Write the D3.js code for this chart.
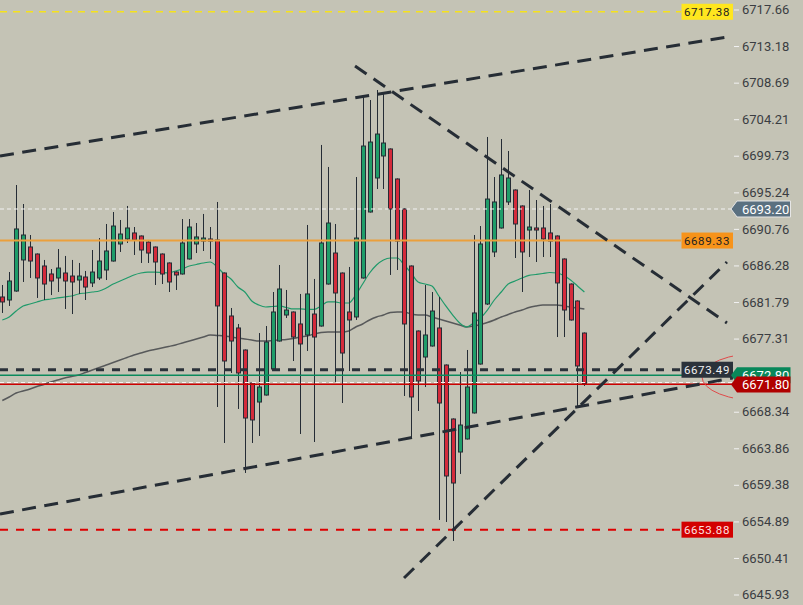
<!DOCTYPE html>
<html><head><meta charset="utf-8">
<script src="https://cdn.jsdelivr.net/npm/d3@7"></script>
<style>html,body{margin:0;padding:0;background:#c4c3b5;}svg{display:block;}</style>
</head><body><svg id="c" width="803" height="605"></svg>
<script>
// ---- DATA ----
const opens = [6682.41,6682.04,6683.14,6686.95,6688.54,6687.68,6686.21,6685.23,6684.74,6685.35,
6684.98,6684.49,6684.86,6684.13,6684.74,6685.72,6686.82,6688.91,6689.52,6690.26,
6689.89,6689.15,6688.54,6687.68,6686.58,6685.47,6685.23,6687.07,6688.91,6689.27,
6689.52,6689.40,6685.35,6680.08,6678.61,6675.91,6671.86,6669.53,6670.39,6673.58,
6677.01,6680.20,6680.57,6679.10,6677.75,6680.32,6678.85,6684.00,6687.80,6685.35,
6680.57,6679.96,6684.74,6692.83,6697.00,6699.70,6700.56,6696.88,6693.20,6686.21,
6678.24,6675.05,6676.40,6678.61,6674.07,6667.45,6663.40,6665.00,6668.19,6674.19,
6681.55,6687.93,6690.87,6694.06,6695.53,6693.57,6690.62,6690.87,6690.87,6690.26,
6689.89,6687.07,6684.00,6681.92,6677.99];
const highs = [6683.88,6685.47,6696.14,6693.81,6690.01,6687.75,6686.95,6685.84,6688.29,6687.44,
6686.95,6686.58,6685.60,6688.17,6689.64,6691.36,6692.83,6691.85,6693.57,6690.99,
6689.95,6689.40,6688.60,6687.75,6686.65,6685.55,6691.97,6691.97,6691.48,6692.59,
6690.99,6694.06,6685.42,6681.06,6679.10,6675.98,6671.93,6677.99,6678.85,6683.02,
6686.33,6683.27,6680.64,6682.78,6691.24,6684.62,6701.05,6698.35,6691.36,6685.42,
6686.09,6697.12,6706.93,6706.56,6707.79,6707.42,6700.63,6696.95,6693.27,6686.28,
6678.31,6683.88,6683.02,6682.41,6674.14,6667.52,6673.21,6675.91,6690.01,6691.11,
6702.03,6697.12,6701.78,6700.31,6695.60,6693.64,6695.53,6694.30,6693.57,6693.81,
6689.96,6687.14,6684.07,6681.99,6678.06];
const lows = [6680.45,6681.31,6683.05,6684.25,6684.74,6682.29,6682.04,6682.65,6683.02,6680.94,
6680.32,6682.78,6682.04,6683.63,6684.49,6684.49,6686.75,6687.93,6689.03,6687.56,
6686.58,6686.58,6683.88,6684.00,6683.02,6683.27,6685.16,6687.00,6687.80,6688.05,
6687.07,6668.92,6664.51,6673.09,6668.68,6660.83,6664.51,6665.37,6670.32,6673.51,
6676.94,6679.83,6674.56,6665.61,6675.79,6664.63,6678.78,6683.93,6671.99,6669.41,
6673.33,6679.59,6684.67,6692.76,6695.65,6695.65,6685.11,6685.72,6670.27,6665.12,
6668.43,6671.37,6676.33,6655.07,6654.82,6652.49,6660.71,6664.93,6668.12,6674.12,
6681.43,6687.31,6690.80,6693.69,6687.19,6683.02,6687.31,6686.70,6687.31,6687.31,
6677.50,6677.50,6679.52,6668.80,6671.50];
const closes = [6681.80,6684.37,6690.75,6690.01,6686.82,6684.74,6684.00,6684.37,6685.96,6684.37,
6684.25,6684.98,6683.63,6685.47,6686.82,6688.05,6691.11,6690.13,6690.87,6689.40,
6688.17,6687.80,6686.70,6685.23,6684.25,6685.11,6689.03,6690.99,6689.77,6689.64,
6689.27,6681.31,6674.56,6677.01,6673.09,6667.57,6667.33,6671.37,6676.89,6680.57,
6683.39,6680.81,6677.50,6676.65,6682.78,6677.50,6689.03,6691.48,6682.90,6675.54,
6679.59,6689.64,6700.92,6701.41,6702.39,6701.29,6693.20,6689.27,6679.10,6670.15,
6672.11,6677.75,6680.69,6669.41,6660.46,6659.60,6666.71,6671.37,6680.45,6688.91,
6694.42,6694.06,6697.37,6697.00,6691.36,6687.93,6690.99,6690.62,6689.52,6689.27,
6684.13,6680.81,6679.59,6673.95,6671.80];
const maFast = [6679.59,6679.96,6680.69,6681.31,6681.55,6681.80,6682.04,6682.16,6682.29,6682.41,
6682.53,6682.78,6682.90,6683.02,6683.14,6683.51,6684.00,6684.37,6684.74,6685.11,
6685.35,6685.47,6685.47,6685.41,6685.35,6685.60,6685.84,6686.21,6686.39,6686.58,
6686.70,6686.09,6685.23,6684.62,6683.63,6683.02,6681.92,6681.43,6681.18,6681.24,
6681.31,6681.12,6680.94,6680.94,6680.88,6680.88,6681.31,6681.80,6681.80,6681.67,
6681.67,6682.65,6684.00,6685.35,6686.33,6686.95,6687.19,6687.19,6686.33,6685.35,
6684.25,6684.00,6683.76,6682.53,6681.31,6680.20,6679.22,6678.73,6679.22,6679.83,
6680.81,6682.04,6683.02,6684.00,6684.37,6684.74,6685.05,6685.17,6685.29,6685.41,
6685.35,6685.05,6684.49,6683.76,6683.02];
const maSlow = [6669.72,6670.15,6670.64,6670.88,6671.13,6671.43,6671.68,6671.99,6672.23,6672.48,
6672.66,6672.84,6673.15,6673.46,6673.76,6674.07,6674.38,6674.68,6674.99,6675.30,
6675.54,6675.79,6675.97,6676.16,6676.34,6676.53,6676.77,6677.01,6677.26,6677.50,
6677.75,6677.69,6677.63,6677.50,6677.38,6677.26,6677.14,6677.01,6677.01,6677.07,
6677.14,6677.20,6677.32,6677.50,6677.63,6677.87,6678.06,6678.12,6678.12,6678.12,
6678.24,6678.73,6679.10,6679.59,6679.96,6680.20,6680.51,6680.57,6680.57,6680.32,
6680.20,6680.20,6679.96,6679.71,6679.47,6679.22,6678.98,6678.73,6678.85,6679.04,
6679.28,6679.59,6679.96,6680.26,6680.57,6680.81,6681.12,6681.31,6681.43,6681.43,
6681.43,6681.31,6681.18,6681.06,6680.94];
const tickValues = [6717.66,6713.18,6708.69,6704.21,6699.73,6695.24,6690.76,6686.28,6681.79,6677.31,6668.34,6663.86,6659.38,6654.89,6650.41,6645.93];
// trend lines: [barIndex, price] pairs
const trendFrom = [[-0.33,6699.70],[-0.33,6655.80],[50.9,6710.73],[57.97,6647.95]];
const trendTo   = [[104.57,6714.29],[105.44,6672.48],[104.57,6679.22],[104.57,6686.70]];
// horizontal levels
const levelPrices = [6717.38,6689.33,6673.49,6653.88];
const levelNames  = ["yellow","orange","dark","red"];
const lastPrice = 6693.20, bidPrice = 6672.80, askPrice = 6671.80;

// ---- DRAW ----
const W=803,H=605, plotR=733;
const svg=d3.select('#c');
svg.append('rect').attr('width',W).attr('height',H).attr('fill','#c4c3b5');
const x=d3.scaleLinear().domain([0,84]).range([2.3,584.4]);
const y=d3.scaleLinear().domain([6645.93,6717.66]).range([594.5,9.5]);
svg.append('clipPath').attr('id','plot').append('rect').attr('x',0).attr('y',0).attr('width',plotR).attr('height',H);
const g=svg.append('g').attr('clip-path','url(#plot)');

const idx=d3.range(opens.length);
// moving averages
const line=d3.line().x((d,i)=>x(i)).y(d=>y(d)).curve(d3.curveMonotoneX);
g.append('path').datum(maSlow).attr('d',line).attr('fill','none').attr('stroke','#3c3f44').attr('stroke-opacity',0.8).attr('stroke-width',1.5);
g.append('path').datum(maFast).attr('d',line).attr('fill','none').attr('stroke','#1f9a6a').attr('stroke-width',1.2);

// candles
const cg=g.append('g');
idx.forEach(i=>{
  const cx=Math.round(x(i))+0.5;
  const up=closes[i]>=opens[i];
  cg.append('line').attr('x1',cx).attr('x2',cx).attr('y1',y(highs[i])).attr('y2',y(lows[i])).attr('stroke','#252c35').attr('stroke-width',1);
  const top=y(Math.max(opens[i],closes[i])), bot=y(Math.min(opens[i],closes[i]));
  cg.append('rect').attr('x',cx-2).attr('y',top).attr('width',4).attr('height',Math.max(1,bot-top))
    .attr('fill',up?'#1f9d69':'#d42b3b').attr('stroke','#252c35').attr('stroke-width',1);
});

// horizontal lines
const hl=(p,x2,stroke,w,dash,off)=>g.append('line').attr('x1',0).attr('x2',x2).attr('y1',y(p)+(off||0)).attr('y2',y(p)+(off||0))
   .attr('stroke',stroke).attr('stroke-width',w).attr('stroke-dasharray',dash||null);
hl(lastPrice,plotR,'#f2f2f2',1,'4 3');
hl(levelPrices[0],681,'#f5e21c',1.5,'7 6');
hl(levelPrices[1],681,'#eba03c',2);
hl(levelPrices[2],681,'#2b323a',3,'8 8');
hl(bidPrice,plotR,'#0b8a5c',1.5);
hl(askPrice,plotR,'#cc0000',1.5,null,0.7);
hl(askPrice,plotR,'#f4f4f4',1,'4 3',-1);
hl(levelPrices[3],681,'#dd0000',2,'8 8');

// trend lines
trendFrom.forEach((f,k)=>{
  const t=trendTo[k];
  g.append('line').attr('x1',x(f[0])).attr('y1',y(f[1])).attr('x2',x(t[0])).attr('y2',y(t[1]))
   .attr('stroke','#262d35').attr('stroke-width',3).attr('stroke-dasharray','14 8.5');
});

// ellipse annotation
g.append('ellipse').attr('cx',762).attr('cy',y(6672.6)).attr('rx',60).attr('ry',24)
 .attr('fill','none').attr('stroke','#e04a4a').attr('stroke-width',1);

// axis
const axis=d3.axisRight(y).tickValues(tickValues).tickFormat(d=>d.toFixed(2)).tickSize(5).tickPadding(3);
const ag=svg.append('g').attr('transform','translate(734,0)').call(axis);
ag.select('.domain').remove();
ag.selectAll('.tick line').attr('stroke','#f2f2f2');
ag.selectAll('.tick text').attr('fill','#3a3d42').style('font-family','Roboto').style('font-size','13px');

// left price labels
const lblFill={yellow:'#ffe61f',orange:'#f7931a',dark:'#2b323a',red:'#d30000'};
const lblText={yellow:'#222',orange:'#222',dark:'#f0f0f0',red:'#ffe0e0'};
levelPrices.forEach((p,k)=>{
  const n=levelNames[k], yy=y(p);
  svg.append('rect').attr('x',681.5).attr('y',yy-8).attr('width',51.5).attr('height',16).attr('fill',lblFill[n]);
  svg.append('text').attr('x',707).attr('y',yy).attr('dy','0.36em').attr('text-anchor','middle')
    .style('font-family','Roboto').style('font-size','11.5px').style('letter-spacing','0.6px')
    .attr('fill',lblText[n]).text(p.toFixed(2));
});

// right price tags
const tag=(p,fill,stroke,off)=>{
  const yc=y(p)+(off||0), t=yc-8, b=yc+8;
  svg.append('path').attr('d',`M731,${yc}L737,${t}H790.5V${b}H737Z`).attr('fill',fill).attr('stroke',stroke||'none').attr('stroke-width',1);
  svg.append('text').attr('x',742).attr('y',yc).attr('dy','0.36em').style('font-family','Roboto').style('font-size','13px')
    .attr('fill','#ffffff').text(p.toFixed(2));
};
tag(lastPrice,'#5a7080','#e6e6e6');
tag(bidPrice,'#08875a');
tag(askPrice,'#b00000',null,1);
</script></body></html>
